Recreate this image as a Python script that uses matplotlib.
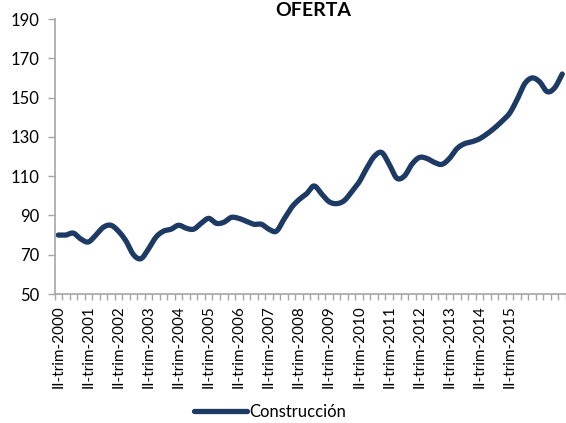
import numpy as np
import matplotlib
matplotlib.use("Agg")
import matplotlib.pyplot as plt

plt.rcParams['font.family'] = ['Lato', 'DejaVu Sans']

# quarterly index, II-trim-2000 .. I-trim-2017
years = list(range(2000, 2016))
tick_labels = ["II-trim-%d" % y for y in years]
construccion = [80, 80, 81, 78, 76.5, 80, 84, 85,
                82, 77, 70, 68, 73, 79, 82, 83,
                85, 83.5, 83, 86, 88.5, 86, 86.5, 89,
                88.5, 87, 85.5, 85.5, 83, 82, 88, 94,
                98, 101, 105, 101, 97, 96, 97.5, 102,
                107, 114, 120, 122, 116, 109, 110, 116,
                119.5, 119, 117, 116, 119, 124, 126.5, 127.5,
                129, 131.5, 134.5, 138, 142, 149, 157, 160,
                158, 153, 155, 162]

navy = "#1c3a63"
grey = "#a6a6a6"


def smooth(xs, ys, n=12):
    # catmull-rom through the points, like excel's smoothed line
    xs = np.asarray(xs, float)
    ys = np.asarray(ys, float)
    px = np.concatenate([[2 * xs[0] - xs[1]], xs, [2 * xs[-1] - xs[-2]]])
    py = np.concatenate([[2 * ys[0] - ys[1]], ys, [2 * ys[-1] - ys[-2]]])
    ox, oy = [], []
    t = np.linspace(0, 1, n, endpoint=False)
    for k in range(1, len(px) - 2):
        for arr, out in ((px, ox), (py, oy)):
            p0, p1, p2, p3 = arr[k - 1], arr[k], arr[k + 1], arr[k + 2]
            out.extend(0.5 * (2 * p1 + (-p0 + p2) * t
                              + (2 * p0 - 5 * p1 + 4 * p2 - p3) * t ** 2
                              + (-p0 + 3 * p1 - 3 * p2 + p3) * t ** 3))
    ox.append(xs[-1])
    oy.append(ys[-1])
    return ox, oy


fig = plt.figure(figsize=(5.66, 4.23), dpi=100)
ax = fig.add_axes([54.5 / 566, 1 - 294 / 423, 1 - 54.5 / 566, (294 - 19) / 423])

x = np.arange(len(construccion))
sx, sy = smooth(x, construccion)
ax.plot(sx, sy, color=navy, lw=3.8, solid_capstyle='round', label="Construcción")

ax.set_xlim(-0.5, 67.3)
ax.set_ylim(50, 190)
ax.set_yticks(range(50, 191, 20))
ax.tick_params(axis='y', labelsize=12, length=5, color=grey, width=1, pad=6)

ax.set_xticks(x[::4][:len(tick_labels)])
ax.set_xticklabels(tick_labels, rotation=90, fontsize=11)
ax.set_xticks(np.arange(-0.5, 68, 1), minor=True)
ax.tick_params(axis='x', which='major', length=0, pad=8)
ax.tick_params(axis='x', which='minor', length=4, color=grey, width=1)

for s in ['top', 'right']:
    ax.spines[s].set_visible(False)
for s in ['left', 'bottom']:
    ax.spines[s].set_color(grey)
    ax.spines[s].set_linewidth(1.2)

fig.text(313 / 566, 1 - 11 / 423, "OFERTA", ha='center', va='center',
         fontsize=14, fontweight='bold')

fig.legend(loc='center', bbox_to_anchor=(270 / 566, 1 - 412 / 423), frameon=False,
           fontsize=12, handlelength=3.2, handletextpad=0.1)

fig.savefig("out.png", dpi=100)
